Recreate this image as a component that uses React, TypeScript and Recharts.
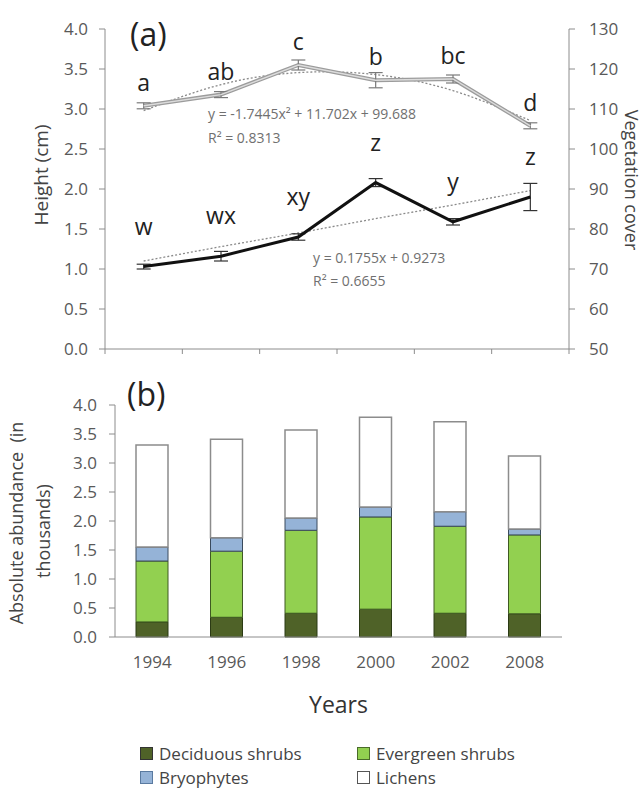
import React from 'react';
import { ComposedChart, BarChart, Bar, Line, XAxis, YAxis, ErrorBar, LabelList } from 'recharts';

const years = ['1994', '1996', '1998', '2000', '2002', '2008'];

// (a) plant height (left axis, cm)
const heightCm = [1.03, 1.16, 1.4, 2.08, 1.59, 1.9];
const heightErr = [0.03, 0.06, 0.04, 0.05, 0.04, 0.17];
const heightLetters = ['w', 'wx', 'xy', 'z', 'y', 'z'];
const heightTrend = [1.1, 1.28, 1.45, 1.63, 1.8, 1.98];

// (a) vegetation cover (right axis)
const cover = [110.8, 113.6, 121.0, 117.2, 117.5, 105.8];
const coverErr = [0.75, 0.75, 1.25, 1.9, 1.0, 0.75];
const coverLetters = ['a', 'ab', 'c', 'b', 'bc', 'd'];
const coverTrend = [109.6, 116.1, 119.1, 118.6, 114.6, 107.1];

// (b) absolute abundance, in thousands (stack segments)
const deciduous = [0.26, 0.34, 0.41, 0.48, 0.41, 0.4];
const evergreen = [1.05, 1.14, 1.43, 1.59, 1.5, 1.36];
const bryophytes = [0.24, 0.23, 0.21, 0.17, 0.25, 0.1];
const lichens = [1.76, 1.7, 1.52, 1.55, 1.55, 1.26];

const heightTicks = [0, 0.5, 1, 1.5, 2, 2.5, 3, 3.5, 4];
const coverTicks = [50, 60, 70, 80, 90, 100, 110, 120, 130];
const abundanceTicks = [0, 0.5, 1, 1.5, 2, 2.5, 3, 3.5, 4];
const edgeTicks = [0, 1, 2, 3, 4, 5, 6];

const topRows = years.map((yr, i) => ({
  x: i + 0.5,
  year: yr,
  height: heightCm[i],
  heightErr: heightErr[i],
  heightLetter: heightLetters[i],
  heightTrend: heightTrend[i],
  cover: cover[i],
  coverErr: coverErr[i],
  coverLetter: coverLetters[i],
  coverTrend: coverTrend[i],
}));

const barRows = years.map((yr, i) => ({
  year: yr,
  deciduous: deciduous[i],
  evergreen: evergreen[i],
  bryophytes: bryophytes[i],
  lichens: lichens[i],
}));

const AXIS = '#8c8c8c';
const TICK = { fill: '#595959', fontSize: 17 };
const fmt = (v: number) => v.toFixed(1);
const NoLabel = () => <g />;

const legendItems = [
  { name: 'Deciduous shrubs', color: '#4f6228', border: '#333', x: 140, y: 753 },
  { name: 'Evergreen shrubs', color: '#92d050', border: '#4a6b2a', x: 357, y: 753 },
  { name: 'Bryophytes', color: '#95b3d7', border: '#5a7aa0', x: 140, y: 777 },
  { name: 'Lichens', color: '#ffffff', border: '#555', x: 357, y: 777 },
];

export default function App() {
  return (
    <div
      style={{
        position: 'absolute',
        left: 0,
        top: 0,
        width: 643,
        height: 788,
        background: '#fff',
        fontFamily: "'Open Sans', sans-serif",
      }}
    >
      {/* (a) */}
      <div style={{ position: 'absolute', left: 0, top: 0 }}>
        <ComposedChart width={643} height={380} data={topRows} margin={{ top: 29, right: 24, bottom: 11, left: 45 }}>
          <XAxis
            type="number"
            dataKey="x"
            domain={[0, 6]}
            ticks={edgeTicks}
            tick={NoLabel}
            tickSize={5}
            height={20}
            stroke={AXIS}
          />
          <YAxis
            yAxisId="h"
            domain={[0, 4]}
            ticks={heightTicks}
            tickFormatter={fmt}
            width={60}
            tickSize={6}
            tickMargin={11}
            tick={TICK}
            stroke={AXIS}
          />
          <YAxis
            yAxisId="v"
            orientation="right"
            domain={[50, 130]}
            ticks={coverTicks}
            width={50}
            tickSize={6}
            tickMargin={14}
            tick={TICK}
            stroke={AXIS}
          />
          <Line
            yAxisId="v"
            dataKey="coverTrend"
            type="natural"
            stroke="#8a8a8a"
            strokeWidth={1.3}
            strokeDasharray="2 2"
            dot={false}
            isAnimationActive={false}
          />
          <Line
            yAxisId="h"
            dataKey="heightTrend"
            stroke="#8a8a8a"
            strokeWidth={1.3}
            strokeDasharray="2 2"
            dot={false}
            isAnimationActive={false}
          />
          <Line
            yAxisId="v"
            dataKey="cover"
            stroke="#9c9c9c"
            strokeWidth={4}
            dot={false}
            isAnimationActive={false}
          />
          <Line
            yAxisId="v"
            dataKey="cover"
            stroke="#dcdcdc"
            strokeWidth={1.4}
            dot={false}
            isAnimationActive={false}
          >
            <ErrorBar dataKey="coverErr" direction="y" width={7} stroke="#7a7a7a" strokeWidth={1.2} />
            <LabelList dataKey="coverLetter" position="top" offset={15} fill="#222" fontSize={23} />
          </Line>
          <Line
            yAxisId="h"
            dataKey="height"
            stroke="#111"
            strokeWidth={3}
            dot={false}
            isAnimationActive={false}
          >
            <ErrorBar dataKey="heightErr" direction="y" width={7} stroke="#333" strokeWidth={1.2} />
            <LabelList dataKey="heightLetter" position="top" offset={32} fill="#222" fontSize={23} />
          </Line>
        </ComposedChart>
      </div>

      {/* (b) */}
      <div style={{ position: 'absolute', left: 0, top: 380 }}>
        <BarChart width={643} height={345} data={barRows} margin={{ top: 25, right: 81, bottom: 0, left: 45 }} barSize={32}>
          <XAxis
            xAxisId="edge"
            type="number"
            domain={[0, 6]}
            ticks={edgeTicks}
            tick={NoLabel}
            tickSize={5}
            axisLine={false}
            height={0}
            stroke={AXIS}
          />
          <XAxis
            xAxisId="cat"
            dataKey="year"
            tickLine={false}
            tickSize={6}
            tickMargin={13}
            tick={TICK}
            height={88}
            stroke={AXIS}
            label={{ value: 'Years', position: 'insideBottom', offset: 12, fill: '#333', fontSize: 23 }}
          />
          <YAxis
            domain={[0, 4]}
            ticks={abundanceTicks}
            tickFormatter={fmt}
            width={70}
            tickSize={6}
            tickMargin={12}
            tick={TICK}
            stroke={AXIS}
          />
          <Bar xAxisId="cat" dataKey="deciduous" stackId="s" fill="#4f6228" stroke="#2b3a14" strokeWidth={1} isAnimationActive={false} />
          <Bar xAxisId="cat" dataKey="evergreen" stackId="s" fill="#92d050" stroke="#3f5a22" strokeWidth={1} isAnimationActive={false} />
          <Bar xAxisId="cat" dataKey="bryophytes" stackId="s" fill="#95b3d7" stroke="#3a4a5c" strokeWidth={1} isAnimationActive={false} />
          <Bar xAxisId="cat" dataKey="lichens" stackId="s" fill="#ffffff" stroke="#8c8c8c" strokeWidth={1.5} isAnimationActive={false} />
        </BarChart>
      </div>

      {/* titles, panel labels, regression equations */}
      <svg width={643} height={788} style={{ position: 'absolute', left: 0, top: 0, pointerEvents: 'none' }}>
        <text x={130} y={33} fontSize={32} fill="#222" dominantBaseline="central">(a)</text>
        <text x={127} y={393} fontSize={32} fill="#222" dominantBaseline="central">(b)</text>
        <g fontSize={14} fill="#707070">
          <text x={208} y={113} dominantBaseline="central">y = -1.7445x² + 11.702x + 99.688</text>
          <text x={208} y={137} dominantBaseline="central">R² = 0.8313</text>
          <text x={313} y={257} dominantBaseline="central">y = 0.1755x + 0.9273</text>
          <text x={313} y={280} dominantBaseline="central">R² = 0.6655</text>
        </g>
        <text x={41} y={175} fontSize={19} fill="#444" textAnchor="middle" dominantBaseline="central" transform="rotate(-90 41 175)">
          Height (cm)
        </text>
        <text x={632} y={180} fontSize={18} fill="#444" textAnchor="middle" dominantBaseline="central" transform="rotate(90 632 180)">
          Vegetation cover
        </text>
        <text x={16} y={523} fontSize={18} fill="#444" textAnchor="middle" dominantBaseline="central" transform="rotate(-90 16 523)" xmlSpace="preserve">
          Absolute abundance  (in
        </text>
        <text x={43} y={531} fontSize={18} fill="#444" textAnchor="middle" dominantBaseline="central" transform="rotate(-90 43 531)">
          thousands)
        </text>
      </svg>

      {/* legend */}
      {legendItems.map((it) => (
        <div
          key={it.name}
          style={{
            position: 'absolute',
            left: it.x,
            top: it.y - 12,
            height: 24,
            display: 'flex',
            alignItems: 'center',
            fontSize: 17,
            color: '#444',
            whiteSpace: 'nowrap',
          }}
        >
          <span
            style={{
              display: 'inline-block',
              width: 11,
              height: 11,
              background: it.color,
              border: `1px solid ${it.border}`,
              marginRight: 6,
            }}
          />
          {it.name}
        </div>
      ))}
    </div>
  );
}
